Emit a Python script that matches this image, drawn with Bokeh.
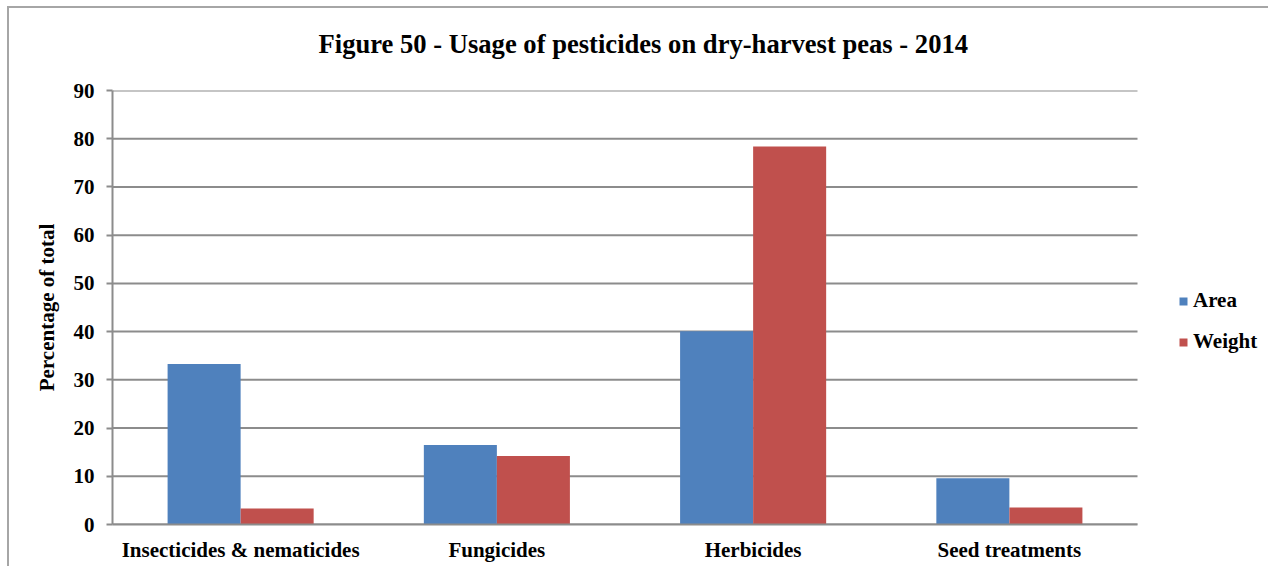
from bokeh.plotting import figure
from bokeh.models import (Range1d, ColumnDataSource, Legend, LegendItem,
                          FixedTicker)
from bokeh.embed import file_html
from bokeh.resources import INLINE

categories = ["Insecticides & nematicides", "Fungicides", "Herbicides", "Seed treatments"]
area = [33.3, 16.5, 40.1, 9.6]
weight = [3.3, 14.2, 78.4, 3.5]
series_names = ["Area", "Weight"]
colors = ["#4F81BD", "#C0504D"]
y_ticks = [0, 10, 20, 30, 40, 50, 60, 70, 80, 90]
title_text = "Figure 50 - Usage of pesticides on dry-harvest peas - 2014"
y_title = "Percentage of total"

FONT = "Liberation Serif"
GRID = "#8c8c8c"
EDGE = "#a6a6a6"

W, H = 1262, 572
LEFT, RIGHT, TOP, BOTTOM = 106, 10, 96, 42
frame_w = W - LEFT - RIGHT
CAT_PX = 256.25                      # pixel width of one category slot
n = len(categories)
x_end = frame_w / CAT_PX

centers = [i + 0.5 for i in range(n)]
bw = 0.285
src = ColumnDataSource(dict(xa=[c - bw / 2 for c in centers], xw=[c + bw / 2 for c in centers],
                            area=area, weight=weight))

p = figure(width=W, height=H, output_backend="svg", toolbar_location=None,
           x_range=Range1d(0, x_end), y_range=Range1d(0, y_ticks[-1]),
           min_border_left=LEFT, min_border_right=RIGHT, min_border_top=TOP,
           min_border_bottom=BOTTOM)
# chart-area border lines (top and left) drawn as CSS background behind a transparent border fill
p.styles = {
    "margin-left": "6px", "margin-top": "-6px",
    "background-image": f"linear-gradient({EDGE},{EDGE}), linear-gradient({EDGE},{EDGE})",
    "background-repeat": "no-repeat",
    "background-size": "100% 2px, 2px 100%",
    "background-position": "1px 12px, 1px 12px",
}
p.border_fill_alpha = 0
p.outline_line_color = None
p.background_fill_color = "white"

p.title.text = title_text
p.title.align = "left"
p.title.offset = 206
p.title.standoff = 64
p.title.text_font = FONT
p.title.text_font_style = "bold"
p.title.text_font_size = "26.6px"
p.title.text_color = "black"

# grid lines limited to the category span
p.xgrid.grid_line_color = None
p.ygrid.grid_line_color = None
p.segment(x0=[0] * len(y_ticks), x1=[n] * len(y_ticks), y0=y_ticks, y1=y_ticks,
          line_color=GRID, line_width=2)

r1 = p.vbar(x="xa", top="area", width=bw, source=src, fill_color=colors[0], line_color=None)
r2 = p.vbar(x="xw", top="weight", width=bw, source=src, fill_color=colors[1], line_color=None)

# y axis
p.yaxis.ticker = FixedTicker(ticks=y_ticks)
p.yaxis.minor_tick_line_color = None
p.yaxis.major_tick_in = 0
p.yaxis.major_tick_out = 6
p.yaxis.major_tick_line_color = GRID
p.yaxis.major_tick_line_width = 2
p.yaxis.axis_line_color = GRID
p.yaxis.axis_line_width = 2
p.yaxis.major_label_standoff = 12
p.yaxis.major_label_text_font = FONT
p.yaxis.major_label_text_font_style = "bold"
p.yaxis.major_label_text_font_size = "21px"
p.yaxis.major_label_text_color = "black"
p.yaxis.axis_label = y_title
p.yaxis.axis_label_text_font = FONT
p.yaxis.axis_label_text_font_style = "bold"
p.yaxis.axis_label_text_font_size = "21px"
p.yaxis.axis_label_text_color = "black"
p.yaxis.axis_label_standoff = 12

# x axis (category labels)
p.xaxis.ticker = FixedTicker(ticks=centers)
p.xaxis.major_label_overrides = {c: lab for c, lab in zip(centers, categories)}
p.xaxis.bounds = (0, n)
p.xaxis.major_tick_in = 0
p.xaxis.major_tick_out = 0
p.xaxis.minor_tick_line_color = None
p.xaxis.axis_line_color = GRID
p.xaxis.axis_line_width = 2
p.xaxis.major_label_standoff = 13
p.xaxis.major_label_text_font = FONT
p.xaxis.major_label_text_font_style = "bold"
p.xaxis.major_label_text_font_size = "21px"
p.xaxis.major_label_text_color = "black"

legend = Legend(items=[LegendItem(label=series_names[0], renderers=[r1]),
                       LegendItem(label=series_names[1], renderers=[r2])],
                location=(1066, 170), orientation="vertical",
                glyph_width=10, glyph_height=10, label_standoff=5, spacing=16,
                padding=0, margin=0, border_line_color=None, background_fill_alpha=0,
                label_text_font=FONT, label_text_font_style="bold",
                label_text_font_size="21px", label_text_color="black")
p.add_layout(legend, "center")

open("out.html", "w").write(file_html(p, INLINE))
